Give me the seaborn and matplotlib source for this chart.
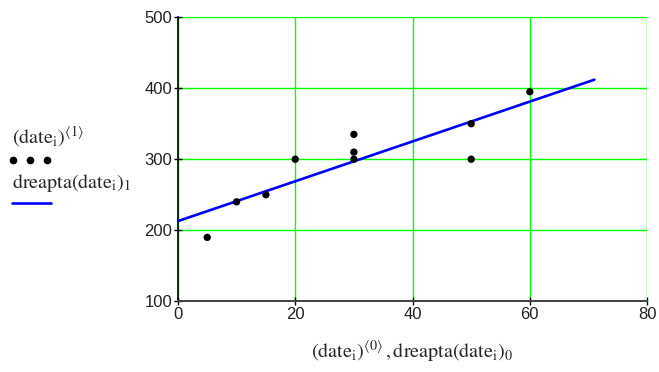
import numpy as np
import pandas as pd
import seaborn as sns
import matplotlib.pyplot as plt
from matplotlib.lines import Line2D

sns.set_theme(style="white")
plt.rcParams['font.family'] = ['Liberation Sans', 'DejaVu Sans']
plt.rcParams['mathtext.fontset'] = 'stix'

# data
date_x = [5, 10, 15, 20, 30, 30, 30, 50, 50, 60]
date_y = [190, 240, 250, 300, 335, 310, 300, 350, 300, 395]
line_x = [0, 71]

df = pd.DataFrame({'x': date_x, 'y': date_y})
slope, icpt = np.polyfit(df['x'], df['y'], 1)
dl = pd.DataFrame({'x': line_x})
dl['y'] = icpt + slope * dl['x']

fig = plt.figure(figsize=(6.59, 3.72), dpi=100)
ax = fig.add_axes([0.270, 0.190, 0.712, 0.764])

sns.lineplot(data=dl, x='x', y='y', color='#0000ff', linewidth=1.9, ax=ax, zorder=3)
sns.scatterplot(data=df, x='x', y='y', color='black', s=28, edgecolor='none', ax=ax, zorder=4)

ax.set_xlim(0, 80)
ax.set_ylim(100, 500)
ax.set_xticks(range(0, 81, 20))
ax.set_yticks(range(100, 501, 100))
ax.grid(True, color='#00ff00', linewidth=1.0)
ax.set_axisbelow(True)
for s in ['top', 'right']:
    ax.spines[s].set_visible(False)
ax.spines['left'].set_color('black')
ax.spines['bottom'].set_color('#404040')
ax.spines['left'].set_linewidth(1.2)
ax.spines['bottom'].set_linewidth(1.4)
ax.tick_params(axis='both', direction='inout', length=6, width=1, colors='black',
               labelsize=12, labelcolor='#222222', pad=1)
ax.tick_params(axis='both', which='both', bottom=True, left=True)
ax.set_xlabel(r'$\left(\mathrm{date}_{\mathrm{i}}\right)^{\langle 0\rangle}\,,\mathrm{dreapta}\left(\mathrm{date}_{\mathrm{i}}\right)_0$',
              fontsize=14.5, labelpad=12)
ax.set_ylabel('')

# legend on the left, drawn like the original
fig.text(0.018, 0.615, r'$\left(\mathrm{date}_{\mathrm{i}}\right)^{\langle 1\rangle}$', fontsize=14.5)
fig.add_artist(Line2D([0.020, 0.045, 0.071], [0.570, 0.570, 0.570], transform=fig.transFigure,
                      linestyle='none', marker='o', markersize=4.5, color='black'))
fig.text(0.018, 0.495, r'$\mathrm{dreapta}\left(\mathrm{date}_{\mathrm{i}}\right)_1$', fontsize=14.5)
fig.add_artist(Line2D([0.018, 0.077], [0.455, 0.455], transform=fig.transFigure,
                      color='#0000ff', linewidth=1.9))

fig.savefig('out.png', dpi=100)
